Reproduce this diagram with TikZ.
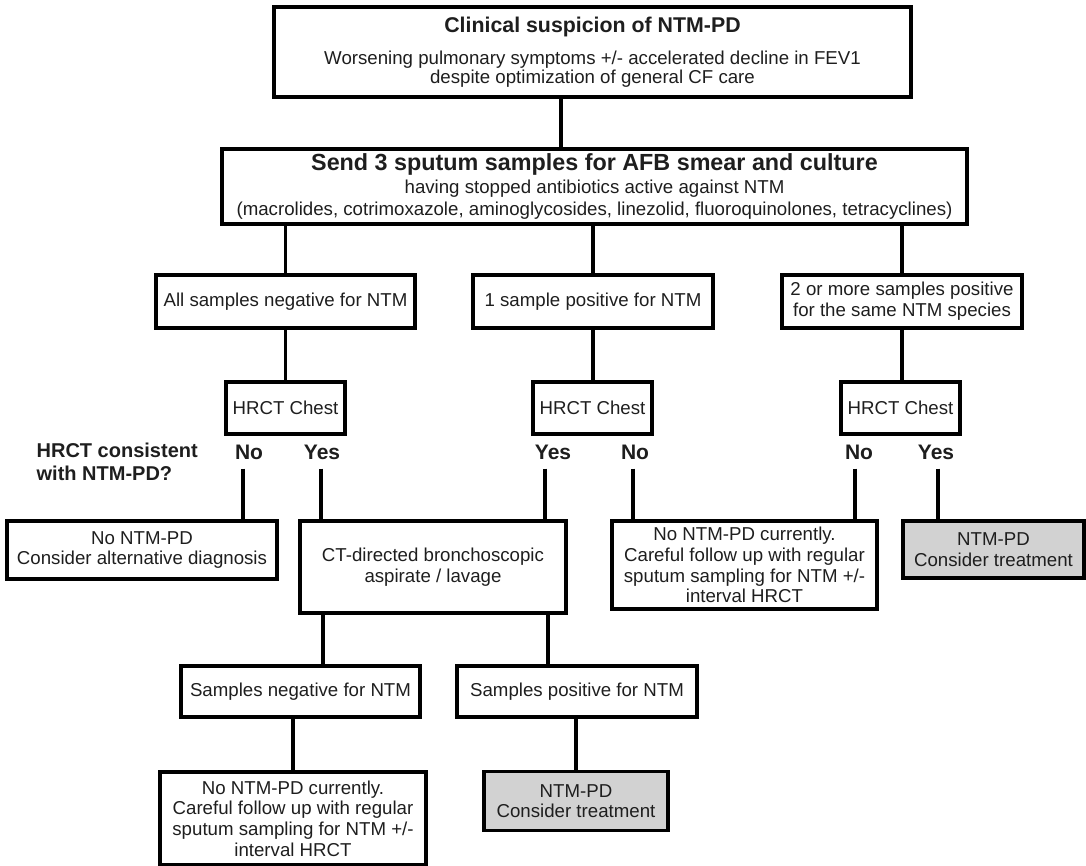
\documentclass[tikz,border=0pt]{standalone}
\usepackage{fontspec}
\setmainfont{Liberation Sans}
\usepackage{tikz}
\def\px{0.75pt}
\definecolor{boxgray}{RGB}{210,210,210}
\definecolor{ink}{RGB}{30,30,30}
\tikzstyle{box}=[draw,line width=2.8pt,inner sep=0pt,align=center,text=ink,font=\fontsize{14}{15.5}\selectfont]
\tikzstyle{treat}=[fill=boxgray]
\tikzstyle{answer}=[font=\fontsize{15.75}{18}\selectfont\bfseries,text=ink,inner sep=0pt,outer ysep=7pt]
\tikzstyle{ask}=[font=\fontsize{15}{17.25}\selectfont\bfseries,text=ink,inner sep=0pt,align=left,anchor=west]
\tikzset{wh/.style 2 args={minimum width=#1*\px,minimum height=#2*\px}}
\newcommand{\newBox}[4]{\node[box,#3](#1) at (#4) {#2};}
\newcommand{\newLink}[3]{\draw (#1.south -| #3,0) -- (#2.north -| #3,0);}

\begin{document}
\begin{tikzpicture}[x=\px,y=-\px,
    line width=2.5pt
    ]
    \useasboundingbox (0,0) rectangle (1086,866);
    % suspicion and sputum
    \newBox{susp}{{\fontsize{16}{18}\selectfont\bfseries Clinical suspicion of NTM-PD}\\[10pt]
      Worsening pulmonary symptoms +/- accelerated decline in FEV1\\despite optimization of general CF care}{wh={637}{90},font=\fontsize{14}{14.25}\selectfont}{592.5,52}
    \newBox{send}{{\fontsize{17.5}{20}\selectfont\bfseries Send 3 sputum samples for AFB smear and culture}\\[1pt]
      having stopped antibiotics active against NTM\\(macrolides, cotrimoxazole, aminoglycosides, linezolid, fluoroquinolones, tetracyclines)}{wh={745}{75},font=\fontsize{14}{16.5}\selectfont}{594.5,186.5}
    \newLink{susp}{send}{561}
    % culture results
    \newBox{allneg}{All samples negative for NTM}{wh={259}{53}}{285.5,301.5}
    \newBox{onepos}{1 sample positive for NTM}{wh={240}{53}}{593,301.5}
    \newBox{twopos}{2 or more samples positive\\for the same NTM species}{wh={240}{53}}{902,301.5}
    \newLink{send}{allneg}{285.5}
    \newLink{send}{onepos}{593}
    \newLink{send}{twopos}{902}
    % HRCT
    \newBox{ctA}{HRCT Chest}{wh={119}{52},font=\fontsize{14}{15}\selectfont}{285.5,408}
    \newBox{ctB}{HRCT Chest}{wh={119}{52},font=\fontsize{14}{15}\selectfont}{592.5,408}
    \newBox{ctC}{HRCT Chest}{wh={119}{52},font=\fontsize{14}{15}\selectfont}{900.5,408}
    \newLink{allneg}{ctA}{285.5}
    \newLink{onepos}{ctB}{593}
    \newLink{twopos}{ctC}{902}
    \node[ask] (consistent) at (35,462) {HRCT consistent\\with NTM-PD?};
    \node[answer] (noA) at (249,452) {No};
    \node[answer] (yesA) at (322,452) {Yes};
    \node[answer] (yesB) at (553,452) {Yes};
    \node[answer] (noB) at (635,452) {No};
    \node[answer] (noC) at (859,452) {No};
    \node[answer] (yesC) at (936,452) {Yes};
    % outcomes
    \newBox{altdx}{No NTM-PD\\Consider alternative diagnosis}{wh={270}{58}}{142,550}
    \newBox{bronch}{CT-directed bronchoscopic\\aspirate / lavage}{wh={266}{92}}{433,567}
    \newBox{followA}{No NTM-PD currently.\\Careful follow up with regular\\sputum sampling for NTM +/-\\interval HRCT}{wh={265}{88}}{744.5,565}
    \newBox{treatA}{NTM-PD\\Consider treatment}{treat,wh={181}{57}}{993.5,549.5}
    \newLink{noA}{altdx}{243}
    \newLink{yesA}{bronch}{321}
    \newLink{yesB}{bronch}{545}
    \newLink{noB}{followA}{633}
    \newLink{noC}{followA}{855}
    \newLink{yesC}{treatA}{938}
    % bronchoscopy results
    \newBox{sneg}{Samples negative for NTM}{wh={239}{51}}{300.5,691.5}
    \newBox{spos}{Samples positive for NTM}{wh={240}{51}}{577,691.5}
    \newLink{bronch}{sneg}{323}
    \newLink{bronch}{spos}{548}
    \newBox{followB}{No NTM-PD currently.\\Careful follow up with regular\\sputum sampling for NTM +/-\\interval HRCT}{wh={266}{93}}{293,818.5}
    \newBox{treatB}{NTM-PD\\Consider treatment}{treat,wh={184}{59}}{576,801}
    \newLink{sneg}{followB}{293}
    \newLink{spos}{treatB}{576}
\end{tikzpicture}
\end{document}
